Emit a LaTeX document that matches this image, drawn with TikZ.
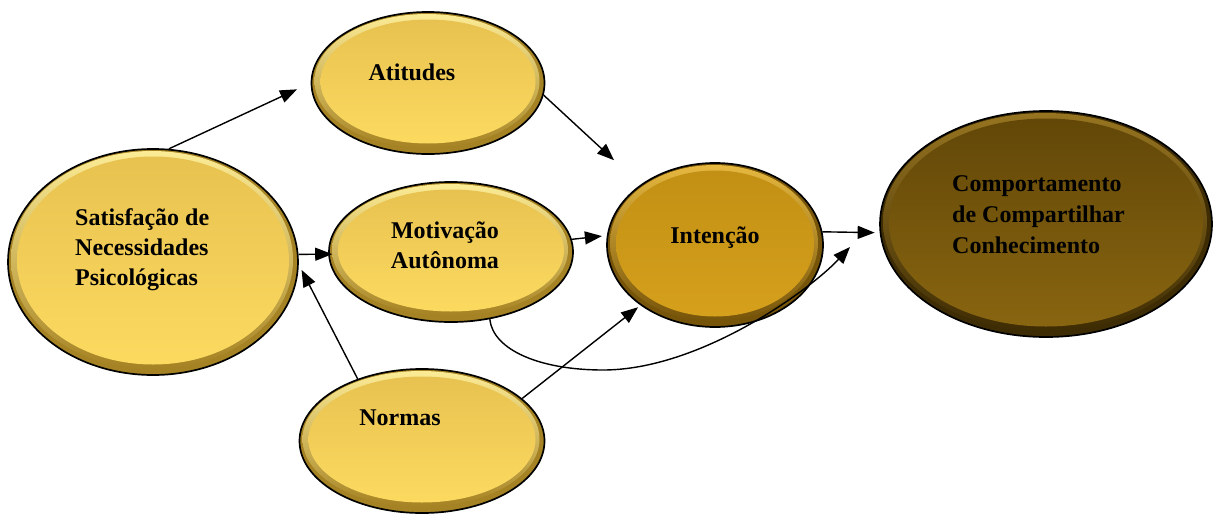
\documentclass[tikz,border=0pt]{standalone}
\usepackage{fontspec}
\setmainfont{Liberation Serif}
\usetikzlibrary{shapes.geometric,arrows.meta,calc}

% bevelled bubble palettes: rim, highlight, inner top, inner bottom
\definecolor{ylrim}{RGB}{165,130,35}
\definecolor{ylhi}{RGB}{252,236,150}
\definecolor{yltop}{RGB}{232,194,80}
\definecolor{ylbot}{RGB}{252,218,96}
\definecolor{gdrim}{RGB}{118,84,10}
\definecolor{gdhi}{RGB}{230,184,64}
\definecolor{gdtop}{RGB}{194,144,20}
\definecolor{gdbot}{RGB}{214,160,28}
\definecolor{brrim}{RGB}{62,44,4}
\definecolor{brhi}{RGB}{150,116,32}
\definecolor{brtop}{RGB}{98,71,8}
\definecolor{brbot}{RGB}{136,101,16}

\tikzset{
  bubble/.style n args={4}{
    ellipse, draw=black, line width=1.7pt, inner sep=0pt,
    path picture={
      \fill[#1] (path picture bounding box.south west) rectangle (path picture bounding box.north east);
      \shade[top color=#2, bottom color=#1]
        let \p1=(path picture bounding box.south west),
            \p2=(path picture bounding box.north east),
            \n1={0.5*(\x2-\x1)}, \n2={0.5*(\y2-\y1)} in
        ([shift={(-1pt,2pt)}]path picture bounding box.center)
          ellipse [x radius=\n1-4pt, y radius=\n2-4pt];
      \shade[top color=#3, bottom color=#4]
        let \p1=(path picture bounding box.south west),
            \p2=(path picture bounding box.north east),
            \n1={0.5*(\x2-\x1)}, \n2={0.5*(\y2-\y1)} in
        ([shift={(0pt,1.5pt)}]path picture bounding box.center)
          ellipse [x radius=\n1-9pt, y radius=\n2-9pt];
    }
  },
  yellowbub/.style={bubble={ylrim}{ylhi}{yltop}{ylbot}},
  goldbub/.style={bubble={gdrim}{gdhi}{gdtop}{gdbot}},
  brownbub/.style={bubble={brrim}{brhi}{brtop}{brbot}},
  txt/.style={inner sep=0pt, font=\fontsize{24}{30}\selectfont\bfseries},
  arr/.style={-{Triangle[length=17pt,width=13pt]}, line width=1.4pt, black},
}

\begin{document}
\begin{tikzpicture}[x=1pt,y=-1pt]
\useasboundingbox (0,0) rectangle (1217,514);

% the six constructs
\node[yellowbub, minimum width=290pt, minimum height=226pt] (sat) at (153,262) {};
\node[yellowbub, minimum width=233pt, minimum height=142pt] (ati) at (428,83) {};
\node[yellowbub, minimum width=244pt, minimum height=140pt] (mot) at (451,252) {};
\node[yellowbub, minimum width=245pt, minimum height=144pt] (nor) at (422,441) {};
\node[goldbub, minimum width=216pt, minimum height=164pt] (int) at (715,245) {};
\node[brownbub, minimum width=332pt, minimum height=226pt] (com) at (1046,224) {};

% labels (multi-line blocks are placed by the baseline of their last line)
\node[txt, anchor=base west, align=left] (tsat) at (75,285) {Satisfação de\\Necessidades\\Psicológicas};
\node[txt, anchor=base] (tati) at (412,80) {Atitudes};
\node[txt, anchor=base, align=center] (tmot) at (445,268) {Motivação\\Autônoma};
\node[txt, anchor=base] (tnor) at (400,425) {Normas};
\node[txt, anchor=base] (tint) at (715,243) {Intenção};
\node[txt, anchor=base west, align=left, font=\fontsize{24}{31}\selectfont\bfseries] (tcom) at (952,253) {Comportamento\\de Compartilhar\\Conhecimento};

% paths between constructs
\coordinate (curveend) at (850,247);
\draw[arr, shorten >=15pt] (sat.82) -- (ati.180);
\draw[arr, shorten >=36pt] (ati.-6) -- (int.141);
\draw[arr, shorten >=-4pt] (sat.3) -- (mot.181);
\draw[arr, shorten >=6pt] (nor.136) -- (sat.-1);
\draw[arr, shorten >=5pt] (mot.6) -- (int.175);
\draw[arr, shorten >=3pt] (nor.23) -- (int.219);
\draw[arr, shorten >=5pt] (int.7) -- (com.183);
\draw[arr] (mot.-60) .. controls (493,350) and (540,370) .. (603,370)
           .. controls (700,370) and (810,290) .. (curveend);
\end{tikzpicture}
\end{document}
